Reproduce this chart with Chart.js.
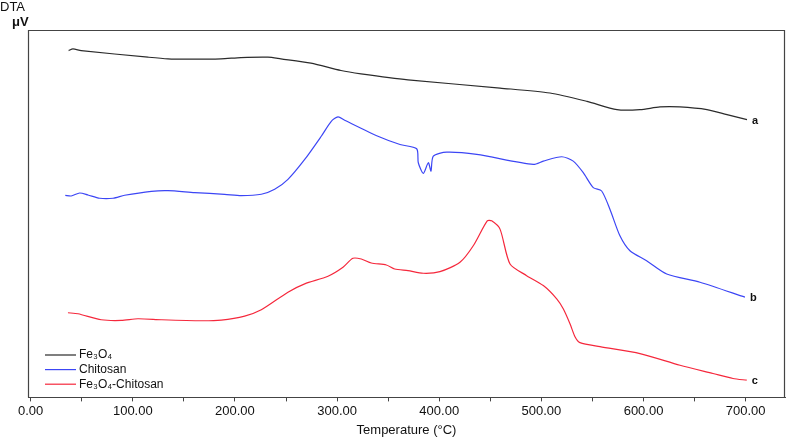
<!DOCTYPE html>
<html>
<head>
<meta charset="utf-8">
<script src="https://cdn.jsdelivr.net/npm/chart.js@4/dist/chart.umd.min.js"></script>
<style>
html,body{margin:0;padding:0;background:#fff;}
#wrap{width:787px;height:437px;position:relative;}
</style>
</head>
<body>
<div id="wrap"><canvas id="c" width="787" height="437"></canvas></div>
<script>
// Temperature (°C) values and DTA signal (arbitrary µV units)
const fe3o4X = [37.2, 41.4, 49.5, 114.8, 134.4, 154, 186.3, 205.9, 232.3, 245, 274.4, 303.8, 323.4, 369.4, 459.5, 508.4, 544.7, 574, 596.5, 616.1, 635.6, 662.1, 681.7, 701.3];
const fe3o4Y = [348.3, 350, 348.3, 341.7, 340, 339.7, 340, 341.3, 341.7, 340, 335.7, 328.3, 325, 319, 310.7, 305.7, 297.3, 289, 289, 291.7, 291.7, 289, 284, 279];

const chitosanX = [33.9, 39.7, 48, 56.1, 67.6, 80.6, 92, 118.1, 134.4, 160.6, 189.9, 206.2, 225.8, 238.9, 251.9, 268.3, 284.5, 294.3, 300.9, 307.4, 340, 361.6, 377.9, 379.5, 384.4, 389.3, 391.9, 394.2, 407.3, 436.7, 492.1, 501.9, 519.9, 531.2, 541, 550.8, 559, 567.1, 576.9, 586.7, 603, 622.7, 655.3, 699.3];
const chitosanY = [203, 202.3, 205.3, 203.3, 200, 200, 203, 207, 207.7, 205.7, 204, 202.7, 204, 209, 219, 239, 262.3, 277.3, 281.7, 278.3, 262.3, 254, 249.7, 235.7, 225, 235.7, 227.3, 242.3, 246.3, 244, 234, 237.3, 241.7, 237.3, 225.7, 210.7, 207.3, 189, 162.3, 147.3, 137.3, 124, 115.7, 100.7];

const compositeX = [36.5, 46.3, 69.1, 88.7, 105, 127.9, 167, 186.6, 209.5, 225.8, 251.9, 268.3, 291.1, 305.8, 315.5, 323.7, 333.5, 348.2, 356.4, 369.4, 384.4, 400.7, 420.3, 433.3, 447, 451.3, 459.5, 469.3, 485.6, 501.9, 515, 521.4, 528, 532.9, 537.8, 557.4, 596.5, 635.7, 668, 687.6, 701];
const compositeY = [85, 84, 78, 77.3, 79, 78, 77, 77.7, 81.7, 88, 105.7, 114, 121.7, 130.7, 139.7, 139, 135, 133, 129, 127.3, 124.7, 126.3, 135.7, 152.3, 177.3, 177.3, 169, 134, 122.3, 112.3, 99, 89, 74, 61, 55, 51, 44, 32.3, 24, 19, 17.3];

const seriesNames = ['Fe₃O₄', 'Chitosan', 'Fe₃O₄-Chitosan'];
const endLabels = ['a', 'b', 'c'];
const xTickStep = 50;

function pts(xs, ys){ return xs.map((x,i)=>({x:x, y:ys[i]})); }

const colors = ['#2b2b2b', '#3c46f5', '#f5283c'];

const overlayPlugin = {
  id: 'overlay',
  afterDraw(chart){
    const ctx = chart.ctx;
    const a = chart.chartArea;
    ctx.save();
    // frame
    ctx.strokeStyle = '#444';
    ctx.lineWidth = 1.2;
    const L = Math.round(a.left)+0.5, T = Math.round(a.top)+0.5, R = Math.round(a.right)-0.5, B = Math.round(a.bottom)+0.5;
    ctx.beginPath();
    ctx.moveTo(L, B); ctx.lineTo(L, T); ctx.lineTo(R, T); ctx.lineTo(R, B);
    ctx.stroke();
    // axis title at top-left
    ctx.fillStyle = '#111';
    ctx.font = '13px "Liberation Sans", Arial, sans-serif';
    ctx.textBaseline = 'middle';
    ctx.textAlign = 'left';
    ctx.fillText('DTA', 0, 7);
    ctx.font = 'bold 13px "Liberation Sans", Arial, sans-serif';
    ctx.fillText('μV', 12, 22);
    // end labels
    ctx.font = 'bold 11px "Liberation Sans", Arial, sans-serif';
    chart.data.datasets.forEach((ds, i) => {
      const meta = chart.getDatasetMeta(i);
      const last = meta.data[meta.data.length-1];
      ctx.fillStyle = '#111';
      ctx.fillText(endLabels[i], last.x + 5, last.y + 1);
    });
    // legend
    ctx.font = '12px "Liberation Sans", Arial, sans-serif';
    const lx = a.left + 17, ly = a.top + 325;
    chart.data.datasets.forEach((ds, i) => {
      const y = ly + i*14.6;
      ctx.strokeStyle = ds.borderColor;
      ctx.lineWidth = 1.2;
      ctx.beginPath();
      ctx.moveTo(lx, y); ctx.lineTo(lx+31, y);
      ctx.stroke();
      ctx.fillStyle = '#111';
      ctx.fillText(ds.label, lx + 34, y);
    });
    ctx.restore();
  }
};

new Chart(document.getElementById('c'), {
  type: 'line',
  data: {
    datasets: [
      {label: seriesNames[0], data: pts(fe3o4X, fe3o4Y), borderColor: colors[0]},
      {label: seriesNames[1], data: pts(chitosanX, chitosanY), borderColor: colors[1]},
      {label: seriesNames[2], data: pts(compositeX, compositeY), borderColor: colors[2]}
    ]
  },
  options: {
    responsive: false,
    animation: false,
    parsing: true,
    elements: {
      point: {radius: 0},
      line: {borderWidth: 1.2, tension: 0.25, fill: false}
    },
    layout: {padding: {left: 28, top: 30, right: 2, bottom: 0}},
    plugins: {legend: {display: false}, tooltip: {enabled: false}},
    scales: {
      x: {
        type: 'linear',
        min: -2.6,
        max: 738.5,
        grid: {drawOnChartArea: false, drawTicks: true, tickLength: 4, color: '#444'},
        border: {color: '#444'},
        ticks: {
          stepSize: xTickStep,
          includeBounds: false,
          autoSkip: false,
          maxRotation: 0,
          padding: 2,
          color: '#111',
          font: {family: '"Liberation Sans", Arial, sans-serif', size: 13},
          callback: (v) => (Math.round(v) % 100 === 0 ? v.toFixed(2) : '')
        },
        title: {
          display: true,
          text: 'Temperature (°C)',
          color: '#111',
          font: {family: '"Liberation Sans", Arial, sans-serif', size: 13, lineHeight: 1},
          padding: {top: 3, bottom: 0}
        }
      },
      y: {
        type: 'linear',
        display: false,
        min: 0,
        max: 369
      }
    }
  },
  plugins: [overlayPlugin]
});
</script>
</body>
</html>
